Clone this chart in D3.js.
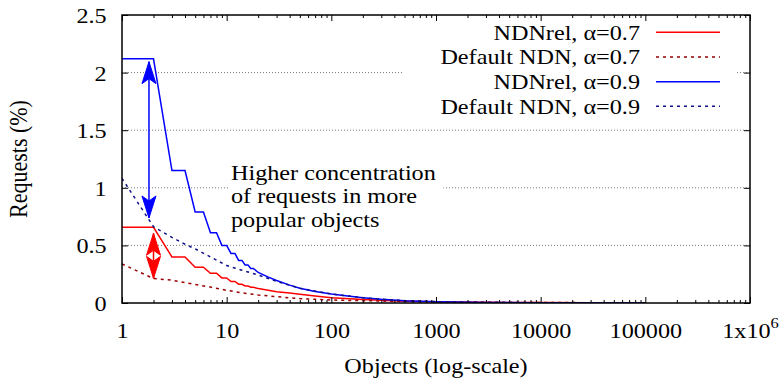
<!DOCTYPE html>
<html>
<head>
<meta charset="utf-8">
<script src="https://cdn.jsdelivr.net/npm/d3@7"></script>
<style>
    body { margin: 0; background: #fff; }
    svg { display: block; }
    svg text { font-family: "Liberation Serif", "Times New Roman", serif; fill: #000; }
    .grid line { stroke: #777; stroke-width: 1; stroke-dasharray: 1,2; }
    .tick line { stroke: #000; }
</style>
</head>
<body>
<div id="chart" style="width:784px;height:381px"></div>
<script>
// object rank (x) and share of requests in % (y)
const relRanks = [1, 2, 3, 4, 5, 6, 7, 8, 9, 10, 11, 12, 13, 14, 15, 16, 17, 18, 20, 25, 30, 40, 50, 70, 100, 150, 200, 300, 500, 1000, 3000, 10000, 30000, 100000];
const relAlpha07 = [0.657, 0.657, 0.40, 0.40, 0.31, 0.31, 0.258, 0.258, 0.218, 0.218, 0.187, 0.187, 0.163, 0.163, 0.148, 0.148, 0.137, 0.137, 0.125, 0.11, 0.098, 0.086, 0.076, 0.06, 0.046, 0.037, 0.031, 0.023, 0.016, 0.01, 0.006, 0.004, 0.003, 0.002];
const relAlpha09 = [2.12, 2.12, 1.15, 1.15, 0.79, 0.79, 0.61, 0.61, 0.50, 0.50, 0.43, 0.43, 0.37, 0.37, 0.33, 0.33, 0.30, 0.30, 0.265, 0.225, 0.195, 0.155, 0.128, 0.10, 0.078, 0.058, 0.046, 0.032, 0.02, 0.011, 0.005, 0.002, 0.001, 0.0005];

const defRanks = [1, 2, 3, 4, 5, 7, 10, 14, 20, 30, 50, 100, 200, 300, 500, 1000, 3000, 10000, 30000, 100000];
const defAlpha07 = [0.339, 0.212, 0.198, 0.177, 0.16, 0.138, 0.11, 0.088, 0.07, 0.055, 0.038, 0.026, 0.02, 0.017, 0.013, 0.009, 0.006, 0.004, 0.003, 0.002];
const defAlpha09 = [1.082, 0.662, 0.57, 0.51, 0.47, 0.40, 0.325, 0.285, 0.243, 0.188, 0.128, 0.078, 0.046, 0.033, 0.021, 0.012, 0.005, 0.002, 0.001, 0.0005];

const seriesNames = ["NDNrel, α=0.7", "Default NDN, α=0.7", "NDNrel, α=0.9", "Default NDN, α=0.9"];

const xTicks = [1, 10, 100, 1000, 10000, 100000, 1000000];
const xTickLabels = ["1", "10", "100", "1000", "10000", "100000", "1x10"];
const yTicks = [0, 0.5, 1, 1.5, 2, 2.5];
const yTickLabels = ["0", "0.5", "1", "1.5", "2", "2.5"];
const annotationLines = ["Higher concentration", "of requests in more", "popular objects"];

// the reference text is a bit wider than Times, stretch it a little
const SX = 1.1;
const FONT = '"Liberation Serif", "Times New Roman", serif';

const series = [
    {name: seriesNames[0], ranks: relRanks, values: relAlpha07, color: "#ff0000", dash: null},
    {name: seriesNames[1], ranks: defRanks, values: defAlpha07, color: "#990000", dash: "3,4"},
    {name: seriesNames[2], ranks: relRanks, values: relAlpha09, color: "#0000ff", dash: null},
    {name: seriesNames[3], ranks: defRanks, values: defAlpha09, color: "#10108c", dash: "3,4"}
];

const width = 784, height = 381;
const padding = {left: 122, top: 15, right: 34, bottom: 78};
const w = width - padding.left - padding.right,
      h = height - padding.top - padding.bottom;

const svg = d3.select("#chart").append("svg")
    .attr("width", width)
    .attr("height", height);
const g = svg.append("g")
    .attr("transform", `translate(${padding.left}, ${padding.top})`);

const xScale = d3.scaleLog().domain([1, 1e6]).range([0, w]);
const yScale = d3.scaleLinear().domain([0, 2.5]).range([h, 0]);

// horizontal grid
g.append("g").attr("class", "grid")
    .selectAll("line")
    .data(yTicks.filter(d => d > 0 && d < 2.5))
    .join("line")
    .attr("x1", 0).attr("x2", w)
    .attr("y1", d => yScale(d)).attr("y2", d => yScale(d));

// white boxes behind legend and annotation
g.append("rect")
    .attr("x", 281).attr("y", 2).attr("width", 332).attr("height", 103)
    .attr("fill", "#fff");
g.append("rect")
    .attr("x", xScale(10.6)).attr("y", yScale(1.24)).attr("width", 214).attr("height", 76)
    .attr("fill", "#fff");

g.append("clipPath").attr("id", "clip")
    .append("rect").attr("width", w).attr("height", h);

const line = d3.line()
    .x(d => xScale(d[0]))
    .y(d => yScale(d[1]));

g.append("g").attr("clip-path", "url(#clip)")
    .selectAll("path")
    .data(series)
    .join("path")
    .attr("d", s => line(s.ranks.map((r, i) => [r, s.values[i]])))
    .attr("fill", "none")
    .attr("stroke", s => s.color)
    .attr("stroke-width", 1.5)
    .attr("stroke-dasharray", s => s.dash);

// double headed arrows
function drawArrow(rank, v1, v2, color) {
    const x = xScale(rank), yt = yScale(v1), yb = yScale(v2);
    const L = 22, N = 17, hw = 7;
    const a = g.append("g");
    a.append("line")
        .attr("x1", x).attr("x2", x).attr("y1", yt).attr("y2", yb)
        .attr("stroke", color).attr("stroke-width", 1.5);
    [[yt, 1], [yb, -1]].forEach(([y, dir]) => {
        a.append("path")
            .attr("d", `M${x},${y}L${x + hw},${y + dir * L}L${x},${y + dir * N}L${x - hw},${y + dir * L}Z`)
            .attr("fill", color).attr("stroke", color).attr("stroke-width", 1)
            .attr("stroke-linejoin", "miter");
    });
}
drawArrow(1.81, 2.095, 0.738, "#0000ff");
drawArrow(2.0, 0.605, 0.214, "#ff0000");

// border
g.append("rect")
    .attr("width", w).attr("height", h)
    .attr("fill", "none").attr("stroke", "#000").attr("stroke-width", 1.5);

function stretch(sel) {
    sel.attr("transform", `scale(${SX},1)`);
}

// axes, ticks pointing inwards like gnuplot
const minorX = [];
for (let d = 0; d < 6; d++) for (let m = 2; m < 10; m++) minorX.push(m * Math.pow(10, d));

const xAxis = d3.axisBottom(xScale)
    .tickValues(xTicks)
    .tickSizeInner(-6).tickSizeOuter(0).tickPadding(19)
    .tickFormat((d, i) => xTickLabels[i]);
const xg = g.append("g").attr("transform", `translate(0, ${h})`).call(xAxis)
    .attr("font-family", FONT).attr("font-size", 22);
xg.select(".domain").remove();
xg.selectAll("text").call(stretch);
xg.selectAll("text").filter((d, i) => i === xTicks.length - 1)
    .append("tspan").attr("font-size", 15).attr("dy", "-0.65em").text("6");

[[d3.axisBottom, h, -3, minorX], [d3.axisTop, 0, -3, minorX], [d3.axisTop, 0, -6, xTicks]].forEach(([ax, y, size, vals]) => {
    const a = g.append("g").attr("transform", `translate(0, ${y})`)
        .call(ax(xScale).tickValues(vals).tickSizeInner(size).tickSizeOuter(0).tickFormat(""));
    a.select(".domain").remove();
});

const yAxis = d3.axisLeft(yScale)
    .tickValues(yTicks)
    .tickSizeInner(-6).tickSizeOuter(0).tickPadding(14)
    .tickFormat((d, i) => yTickLabels[i]);
const yg = g.append("g").call(yAxis)
    .attr("font-family", FONT).attr("font-size", 22);
yg.select(".domain").remove();
yg.selectAll("text").attr("dy", "0.34em").call(stretch);

const yr = g.append("g").attr("transform", `translate(${w}, 0)`)
    .call(d3.axisRight(yScale).tickValues(yTicks).tickSizeInner(-6).tickSizeOuter(0).tickFormat(""));
yr.select(".domain").remove();

// axis titles
svg.append("g")
    .attr("transform", `translate(${padding.left + w / 2}, 373) scale(${SX},1)`)
    .append("text")
    .attr("text-anchor", "middle").attr("font-size", 22)
    .text("Objects (log-scale)");
svg.append("g")
    .attr("transform", `translate(27, ${padding.top + h / 2}) scale(${SX},1) rotate(-90)`)
    .append("text")
    .attr("text-anchor", "middle").attr("font-size", 22)
    .text("Requests (%)");

// annotation
const note = g.append("g")
    .attr("transform", `translate(${xScale(11)}, ${yScale(1.07)}) scale(${SX},1)`);
note.selectAll("text")
    .data(annotationLines)
    .join("text")
    .attr("y", (d, i) => i * 23.5)
    .attr("font-size", 22)
    .text(d => d);

// legend
const legend = g.append("g").attr("transform", `translate(0, 17.3)`);
const rows = legend.selectAll("g")
    .data(series)
    .join("g")
    .attr("transform", (d, i) => `translate(0, ${i * 24.67})`);
rows.append("line")
    .attr("x1", 534).attr("x2", 598)
    .attr("stroke", d => d.color).attr("stroke-width", 1.5)
    .attr("stroke-dasharray", d => d.dash);
rows.append("g")
    .attr("transform", `translate(518, 7.5) scale(${SX},1)`)
    .append("text")
    .attr("text-anchor", "end").attr("font-size", 22)
    .text(d => d.name);
</script>
</body>
</html>
